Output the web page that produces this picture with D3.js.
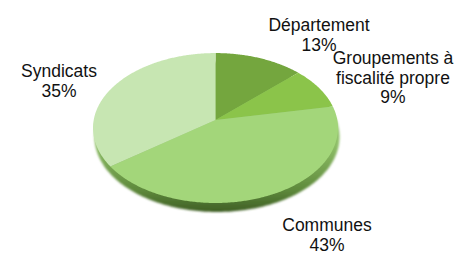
<!DOCTYPE html>
<html lang="fr">
<head>
    <meta charset="UTF-8">
    <title>Répartition</title>
    <style>
        body { margin: 0; background: #fff; }
        svg { display: block; }
        .label text {
            font-family: "Liberation Sans", Arial, sans-serif;
            font-size: 17.5px;
            fill: #111;
            text-anchor: middle;
        }
    </style>
</head>
<body>
    <div id="chart"></div>

    <script src="https://d3js.org/d3.v7.min.js"></script>
    <script>
        const categories = ["Département", "Groupements à fiscalité propre", "Communes", "Syndicats"];
        const values = [13, 9, 43, 35];
        const labelLines = [["Département", "13%"], ["Groupements à", "fiscalité propre", "9%"], ["Communes", "43%"], ["Syndicats", "35%"]];
        const colors = ["#74a63e", "#8bc44a", "#a3d67a", "#c7e6b2"];

        // where each label block sits (centre x, first baseline y)
        const labelPos = [[319, 31], [393, 64], [327, 231], [59, 77]];

        const width = 466, height = 253;

        const svg = d3.select("#chart").append("svg")
            .attr("width", width)
            .attr("height", height);

        // tilted circle seen in perspective
        const cx = 215.5, cy = 120;
        const a = 121.8, b = 74.1, k = 0.107;
        const depth = 9;

        function project(theta, dy) {
            const s = Math.sin(theta), c = Math.cos(theta);
            const d = 1 + k * c;
            return [cx + a * s / d, cy - b * c / d + (dy || 0)];
        }

        const pie = d3.pie().sort(null).value(d => d);
        const arcs = pie(values);

        const line = d3.line();

        function slicePath(arc) {
            const n = Math.max(2, Math.ceil((arc.endAngle - arc.startAngle) / 0.01));
            const pts = [[cx, cy]];
            for (let i = 0; i <= n; i++) {
                pts.push(project(arc.startAngle + (arc.endAngle - arc.startAngle) * i / n));
            }
            return line(pts) + "Z";
        }

        function outline(dy, dx) {
            const pts = d3.range(0, 361).map(t => {
                const p = project(t * Math.PI / 180, dy);
                return [p[0] + (dx || 0), p[1]];
            });
            return line(pts) + "Z";
        }

        const defs = svg.append("defs");
        const grad = defs.append("linearGradient")
            .attr("id", "rim")
            .attr("x1", 0).attr("y1", 0).attr("x2", 0).attr("y2", 1);
        grad.append("stop").attr("offset", "0.55").attr("stop-color", "#8fbf68");
        grad.append("stop").attr("offset", "0.85").attr("stop-color", "#5f8a3c");
        grad.append("stop").attr("offset", "1").attr("stop-color", "#3f5f25");

        defs.append("filter").attr("id", "soft")
            .append("feGaussianBlur").attr("stdDeviation", 1.1);

        // side of the disc
        svg.append("path")
            .attr("d", outline(depth, 1.5))
            .attr("fill", "url(#rim)")
            .attr("filter", "url(#soft)");

        svg.append("g")
            .selectAll("path")
            .data(arcs)
            .join("path")
            .attr("d", slicePath)
            .attr("fill", (d, i) => colors[i])
            .append("title")
            .text((d, i) => categories[i] + " : " + d.data + "%");

        const labels = svg.append("g").attr("class", "label")
            .selectAll("text")
            .data(labelLines)
            .join("text")
            .attr("x", (d, i) => labelPos[i][0])
            .attr("y", (d, i) => labelPos[i][1]);

        labels.selectAll("tspan")
            .data(d => d)
            .join("tspan")
            .attr("x", function () { return this.parentNode.getAttribute("x"); })
            .attr("dy", (d, i) => i === 0 ? 0 : 19.5)
            .text(d => d);
    </script>
</body>
</html>
